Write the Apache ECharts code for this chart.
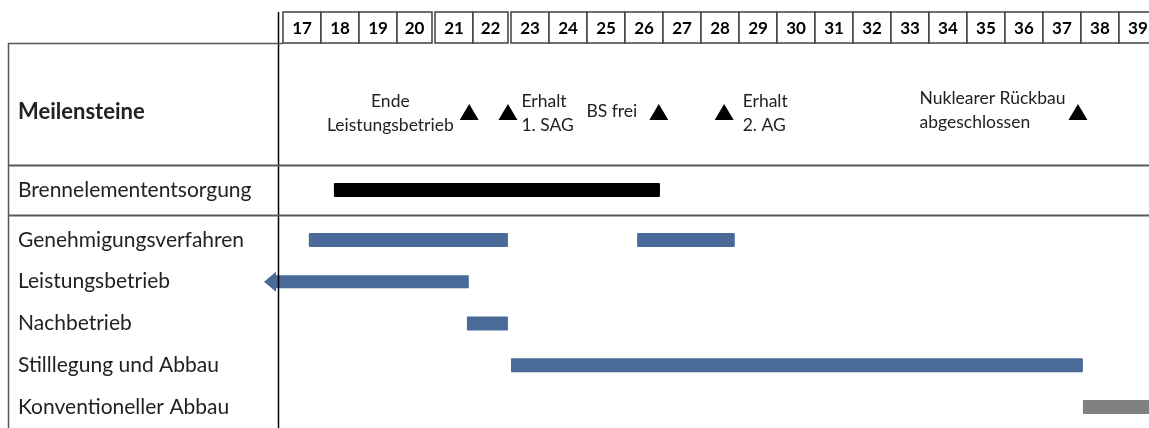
<!DOCTYPE html>
<html>
<head>
<meta charset="utf-8">
<script src="https://cdn.jsdelivr.net/npm/echarts@6/dist/echarts.min.js"></script>
<style>
  html, body { margin: 0; padding: 0; background: #fff; }
  #chart { width: 1149px; height: 428px; }
</style>
</head>
<body>
<div id="chart"></div>
<script>
// Zeitplan Rückbau: Jahre (20)17–(20)39, Meilensteine und Phasen
const years = [17, 18, 19, 20, 21, 22, 23, 24, 25, 26, 27, 28, 29, 30, 31, 32, 33, 34, 35, 36, 37, 38, 39];
const blockStarts = [21, 23];   // header shows a double rule before these years

const milestoneNames = ['Ende\nLeistungsbetrieb', 'Erhalt\n1. SAG', 'BS frei', 'Erhalt\n2. AG', 'Nuklearer Rückbau\nabgeschlossen'];
const milestoneYears = [21.9, 22.92, 26.89, 28.61, 37.92];

const fuelRows = ['Brennelemententsorgung'];
const fuelStart = [18.34];
const fuelEnd = [26.92];

const taskRows = ['Genehmigungsverfahren', 'Leistungsbetrieb', 'Nachbetrieb', 'Stilllegung und Abbau', 'Konventioneller Abbau'];
const taskNames = ['Genehmigungsverfahren', 'Genehmigungsverfahren', 'Leistungsbetrieb', 'Nachbetrieb', 'Stilllegung und Abbau', 'Konventioneller Abbau'];
const taskStart = [17.68, 26.32, 16.5, 21.84, 23.0, 38.05];   // Leistungsbetrieb began before 2017
const taskEnd = [22.92, 28.89, 21.89, 22.92, 38.05, 40];

// ---- styles ----
const X_MIN = 17, X_MAX = 39.79;   // the picture is cut off inside the 2039 column
const FONT = 'Lato, "Open Sans", sans-serif';
const TXT = '#222';
const BLUE = '#4A6A9A';
const taskColors = [BLUE, BLUE, BLUE, BLUE, BLUE, '#808080'];
const fuelColors = ['#000'];
const labelLayout = [
    { pos: 'left', tok: 'c', dist: 6, off: [0, 1] },
    { pos: 'right', tok: 'l', dist: 4, off: [0, 1] },
    { pos: 'left', tok: 'l', dist: 12, off: [0, -1] },
    { pos: 'right', tok: 'l', dist: 9, off: [0, 1] },
    { pos: 'left', tok: 'l', dist: 3, off: [0, -2] }
];

const chart = echarts.init(document.getElementById('chart'), null, { renderer: 'canvas' });

function xAxis(i) {
    return { gridIndex: i, type: 'value', min: X_MIN, max: X_MAX, show: false };
}
function rowAxis(i, cats, bold) {
    return {
        gridIndex: i, type: 'category', data: cats, inverse: true,
        axisLine: { show: false }, axisTick: { show: false }, splitLine: { show: false },
        axisLabel: { align: 'left', margin: 265, fontFamily: FONT, fontSize: bold ? 22 : 21, color: TXT, fontWeight: bold ? 'bold' : 'normal' }
    };
}

function renderHeaderCell(params, api) {
    const yr = api.value(0);
    const a = api.coord([yr, 1]);
    const b = api.coord([yr + 1, 0]);
    const right = blockStarts.includes(yr + 1) ? b[0] - 3 : b[0];
    return {
        type: 'group',
        children: [
            { type: 'rect', shape: { x: a[0], y: a[1], width: right - a[0], height: b[1] - a[1] },
              style: { fill: '#fff', stroke: '#404040', lineWidth: 1.5 } },
            { type: 'text', style: { text: String(yr), x: (a[0] + right) / 2, y: (a[1] + b[1]) / 2 + 1,
              align: 'center', verticalAlign: 'middle', textAlign: 'center', textVerticalAlign: 'middle',
              font: 'bold 17px ' + FONT, fill: '#000' } }
        ]
    };
}

function barRenderer(colors) {
    return function (params, api) {
        const s = api.value(0), e = api.value(1), row = api.value(2);
        const p0 = api.coord([s, row]);
        const p1 = api.coord([e, row]);
        const yc = p0[1], h = 14;
        const color = colors[params.dataIndex];
        if (s < X_MIN) {
            // open start: draw as an arrow pointing left
            const hx = p0[0] + 12;
            return {
                type: 'polygon',
                shape: { points: [[p0[0], yc], [hx, yc - 10], [hx, yc - 6.5], [p1[0], yc - 6.5], [p1[0], yc + 6.5], [hx, yc + 6.5], [hx, yc + 10]] },
                style: { fill: color }
            };
        }
        return { type: 'rect', shape: { x: p0[0], y: yc - h / 2, width: p1[0] - p0[0], height: h, r: 1 }, style: { fill: color } };
    };
}

const richBase = { fontFamily: FONT, fontSize: 17.5, color: TXT, lineHeight: 24 };

const option = {
    animation: false,
    backgroundColor: '#fff',
    grid: [
        { left: 283, right: 0, top: 12, height: 31 },
        { left: 283, right: 0, top: 57, height: 110 },
        { left: 283, right: 0, top: 165, height: 50 },
        { left: 283, right: 0, top: 219, height: 213 }
    ],
    xAxis: [xAxis(0), xAxis(1), xAxis(2), xAxis(3)],
    yAxis: [
        { gridIndex: 0, type: 'value', min: 0, max: 1, show: false },
        rowAxis(1, ['Meilensteine'], true),
        rowAxis(2, fuelRows, false),
        rowAxis(3, taskRows, false)
    ],
    graphic: [
        { type: 'line', shape: { x1: 278.5, y1: 12, x2: 278.5, y2: 428 }, style: { stroke: '#000', lineWidth: 1.5 }, z: 10 },
        { type: 'line', shape: { x1: 8.5, y1: 43, x2: 8.5, y2: 428 }, style: { stroke: '#555', lineWidth: 1.5 }, z: 10 },
        { type: 'line', shape: { x1: 8, y1: 43.5, x2: 283, y2: 43.5 }, style: { stroke: '#555', lineWidth: 1.5 }, z: 10 },
        { type: 'line', shape: { x1: 8, y1: 165.5, x2: 1149, y2: 165.5 }, style: { stroke: '#5a5a5a', lineWidth: 2 }, z: 10 },
        { type: 'line', shape: { x1: 8, y1: 215.5, x2: 1149, y2: 215.5 }, style: { stroke: '#5a5a5a', lineWidth: 2 }, z: 10 }
    ],
    series: [
        {
            type: 'custom', xAxisIndex: 0, yAxisIndex: 0, silent: true, clip: false,
            renderItem: renderHeaderCell,
            encode: { x: 0 },
            data: years.map(y => [y])
        },
        {
            type: 'scatter', xAxisIndex: 1, yAxisIndex: 1, silent: true,
            symbol: 'triangle', symbolSize: [19, 16],
            itemStyle: { color: '#000', opacity: 1 },
            emphasis: { disabled: true },
            data: milestoneYears.map((x, i) => ({
                value: [x, 'Meilensteine'],
                name: milestoneNames[i],
                label: {
                    show: true,
                    position: labelLayout[i].pos,
                    distance: labelLayout[i].dist,
                    offset: labelLayout[i].off,
                    formatter: p => p.name.split('\n').map(l => '{' + labelLayout[i].tok + '|' + l + '}').join('\n'),
                    rich: {
                        c: Object.assign({ align: 'center' }, richBase),
                        l: Object.assign({ align: 'left' }, richBase)
                    }
                }
            }))
        },
        {
            type: 'custom', xAxisIndex: 2, yAxisIndex: 2, silent: true, clip: false,
            renderItem: barRenderer(fuelColors),
            encode: { x: [0, 1], y: 2 },
            data: fuelRows.map((n, i) => [fuelStart[i], fuelEnd[i], i])
        },
        {
            type: 'custom', xAxisIndex: 3, yAxisIndex: 3, silent: true, clip: false,
            renderItem: barRenderer(taskColors),
            encode: { x: [0, 1], y: 2 },
            data: taskNames.map((n, i) => [taskStart[i], taskEnd[i], taskRows.indexOf(n)])
        }
    ]
};

chart.setOption(option);
window.addEventListener('resize', () => chart.resize());
</script>
</body>
</html>
